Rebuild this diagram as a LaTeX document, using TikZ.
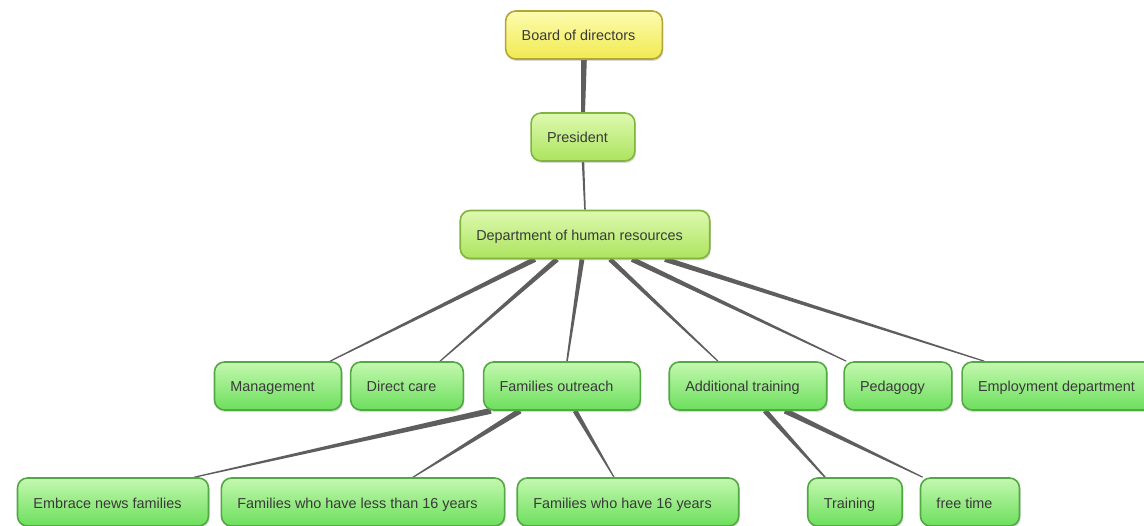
\documentclass[tikz,border=0pt]{standalone}
\usepackage{fontspec}
\setmainfont{Liberation Sans}
\usepackage{tikz}
\usetikzlibrary{calc,shadows,backgrounds}

\definecolor{giallo1}{HTML}{FDFCB0}
\definecolor{giallo2}{HTML}{F0EA50}
\definecolor{gialloB}{HTML}{B3A536}
\definecolor{lime1}{HTML}{DEF9B0}
\definecolor{lime2}{HTML}{ACE45E}
\definecolor{limeB}{HTML}{80B43E}
\definecolor{verde1}{HTML}{C4F8B0}
\definecolor{verde2}{HTML}{6CDF5C}
\definecolor{verdeB}{HTML}{52A843}
\definecolor{ramoC}{HTML}{5E5E5E}
\definecolor{testo}{HTML}{3A3A3A}

\begin{document}
\begin{tikzpicture}[x=1pt,y=-1pt]
\tikzstyle{casella} = [draw, line width=1.6pt, rounded corners=10pt, minimum height=48pt, inner xsep=16pt, text height=12pt, text depth=0pt, text=testo, font=\fontsize{14.4}{17}\selectfont, execute at end node={\hspace*{11pt}}, drop shadow={opacity=0.3, shadow xshift=1pt, shadow yshift=-2pt}]
\tikzstyle{gialla} = [casella, draw=gialloB, top color=giallo1, bottom color=giallo2]
\tikzstyle{lime} = [casella, draw=limeB, top color=lime1, bottom color=lime2]
\tikzstyle{verde} = [casella, draw=verdeB, top color=verde1, bottom color=verde2]
\tikzstyle{ramo} = [fill=ramoC]
\useasboundingbox (0,0) rectangle (1144,526);
\node[gialla] (v1) at (584,35) {Board of directors};
\node[lime] (v2) at (583,137) {President};
\node[lime] (v3) at (585,234.5) {Department of human resources};
\node[verde] (v4) at (278,386) {Management};
\node[verde] (v5) at (407,386) {Direct care};
\node[verde] (v6) at (562,386) {Families outreach};
\node[verde] (v7) at (748,386) {Additional training};
\node[verde] (v8) at (898,386) {Pedagogy};
\node[verde] (v9) at (1062,386) {Employment department};
\node[verde] (v10) at (113,502) {Embrace news families};
\node[verde] (v11) at (363,502) {Families who have less than 16 years};
\node[verde] (v12) at (628,502) {Families who have 16 years};
\node[verde] (v13) at (855,502) {Training};
\node[verde] (v14) at (970,502) {free time};
%rami
\begin{scope}[on background layer]
\foreach \p/\dp/\c/\dc/\w/\e in {v1.south/0/v2.north/0/2.8/2.0, v2.south/0/v3.north/0/1.2/0.8,
  v3.south/-50/v4.north/52/2.6/0.6, v3.south/-28/v5.north/33/2.6/0.6, v3.south/-3/v6.north/5/2.4/0.8,
  v3.south/25/v7.north/-30/2.4/0.6, v3.south/47/v8.north west/3/2.6/0.6, v3.south/80/v9.north west/23/2.6/0.6,
  v6.south west/8/v10.north east/-15/3.0/0.6, v6.south/-42/v11.north/50/2.8/0.6, v6.south/13/v12.north/-14/2.4/0.6,
  v7.south/17/v13.north/-30/2.6/0.8, v7.south/37/v14.north west/3/2.8/0.6}
{
\fill[ramo] ($([xshift=\dp pt]\p)!\w pt!90:([xshift=\dc pt]\c)$) -- ($([xshift=\dc pt]\c)!\e pt!-90:([xshift=\dp pt]\p)$) -- ($([xshift=\dc pt]\c)!\e pt!90:([xshift=\dp pt]\p)$) -- ($([xshift=\dp pt]\p)!\w pt!-90:([xshift=\dc pt]\c)$) -- cycle;
}
\end{scope}
\end{tikzpicture}
\end{document}
